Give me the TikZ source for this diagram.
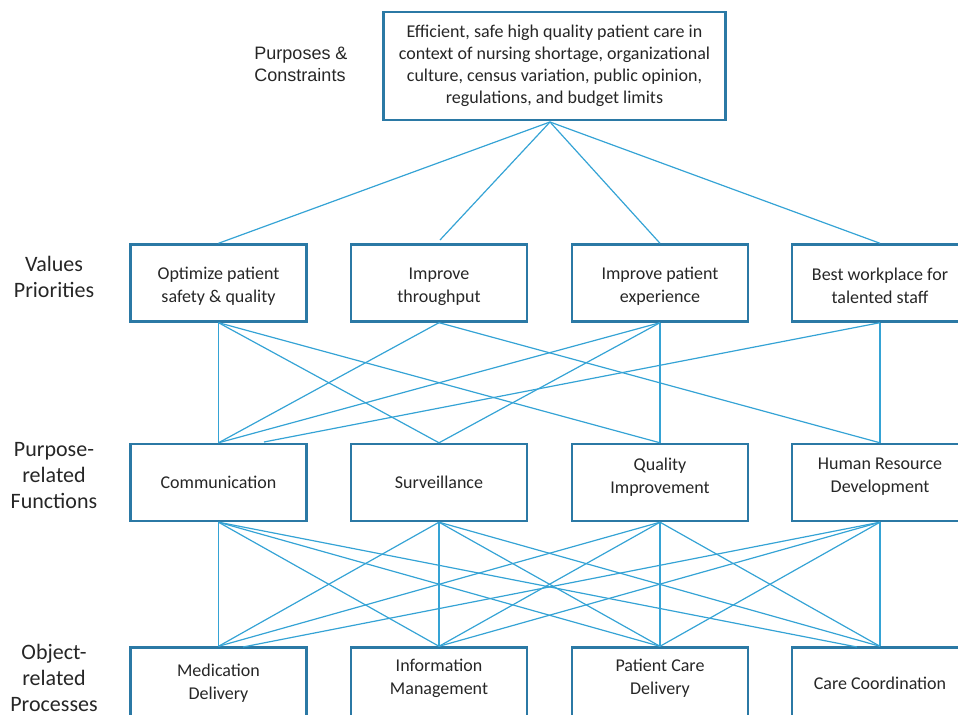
\documentclass[tikz,border=0pt]{standalone}
\usepackage{fontspec}
\setmainfont{Carlito}
\newfontfamily\arialfont{Liberation Sans}
\definecolor{boxblue}{HTML}{2B79A5}
\definecolor{lineblue}{HTML}{35A3D5}
\definecolor{textgrey}{HTML}{262626}

\begin{document}
\begin{tikzpicture}[
        x=0.5pt, y=-0.5pt,
        every node/.style={text=textgrey, align=center, inner sep=0pt},
        box/.style={draw=boxblue, line width=1.2pt, minimum width=88pt, minimum height=38.5pt,
            font=\fontsize{9}{11.5}\selectfont},
        bigbox/.style={box, minimum width=171pt, minimum height=54pt, font=\fontsize{9}{11}\selectfont},
        liftup/.style={text depth=#1},
        pushdown/.style={text height=#1},
        level/.style={font=\fontsize{11}{13}\selectfont},
        ar/.style={-, draw=lineblue, line width=0.6pt},
    ]

    \clip (0,0) rectangle (958,715);

    % levels
    \node[level, font=\arialfont\fontsize{9}{11}\selectfont, align=left](lvpurp) at (301,64) {Purposes \&\\Constraints};
    \node[level](lvval) at (54,277) {Values\\Priorities};
    \node[level](lvfun) at (54,476) {Purpose-\\related\\Functions};
    \node[level](lvproc) at (54,678) {Object-\\related\\Processes};

    % boxes
    \node[bigbox](purpose) at (554.5,66) {Efficient, safe high quality patient care in\\context of nursing shortage, organizational\\culture, census variation, public opinion,\\regulations, and budget limits};

    \node[box, pushdown=21pt](valsafety) at (218.5,283) {Optimize patient\\safety \& quality};
    \node[box, pushdown=21pt](valthru) at (439,283) {Improve\\throughput};
    \node[box, pushdown=21pt](valexp) at (660,283) {Improve patient\\experience};
    \node[box, pushdown=21pt](valstaff) at (880,283) {Best workplace for\\talented staff};

    \node[box](funcomm) at (218.5,482.5) {Communication};
    \node[box](funsurv) at (439,482.5) {Surveillance};
    \node[box, liftup=7pt](funqual) at (660,482.5) {Quality\\Improvement};
    \node[box, liftup=7pt](funhr) at (880,482.5) {Human Resource\\Development};

    \node[box, liftup=4.5pt](procmed) at (218.5,686) {Medication\\Delivery};
    \node[box, liftup=9pt](procinfo) at (439,686) {Information\\Management};
    \node[box, liftup=9pt](proccare) at (660,686) {Patient Care\\Delivery};
    \node[box, liftup=3pt](proccoord) at (880,686) {Care Coordination};

    \coordinate (topjoin) at (550,122);
    \coordinate (thruend) at (440,240);
    \coordinate (commend) at (264,442);
    \coordinate (medend) at (243,647);
    \coordinate (coordend) at (857,647);

    \path[ar]
    (topjoin) edge (valsafety.north) edge (thruend)
              edge (valexp.north) edge (valstaff.north)

    (valsafety.south) edge (funcomm.north) edge (funsurv.north) edge (funqual.north)
    (valthru.south) edge (funcomm.north) edge (funhr.north)
    (valexp.south) edge (funcomm.north) edge (funsurv.north) edge (funqual.north)
    (valstaff.south) edge (commend) edge (funhr.north)

    (funcomm.south) edge (procmed.north) edge (procinfo.north)
                    edge (proccare.north) edge (coordend)
    (funsurv.south) edge (procmed.north) edge (procinfo.north)
                    edge (proccare.north) edge (proccoord.north)
    (funqual.south) edge (procmed.north) edge (procinfo.north)
                    edge (proccare.north) edge (proccoord.north)
    (funhr.south) edge (medend) edge (procinfo.north)
                  edge (proccare.north) edge (proccoord.north)
    ;
\end{tikzpicture}
\end{document}
